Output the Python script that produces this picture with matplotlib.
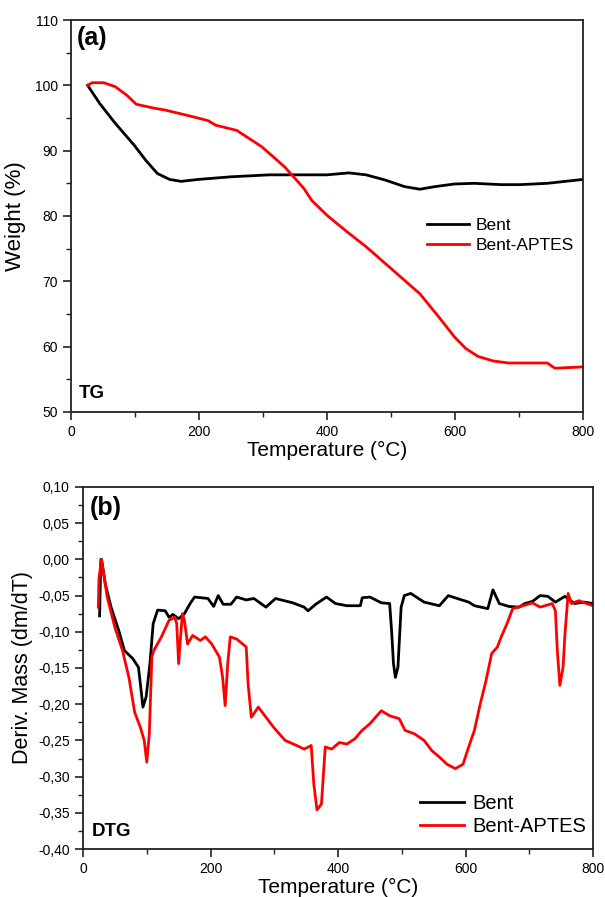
import numpy as np
import matplotlib
matplotlib.use("Agg")
import matplotlib.pyplot as plt
from matplotlib.ticker import MultipleLocator, FuncFormatter

plt.rcParams['font.family'] = ['Liberation Sans', 'DejaVu Sans']

# TG curves (weight %)
tg_bent_t = [26, 45, 69, 99, 117, 135, 154, 172, 199, 250, 310, 370, 400, 434, 461,
             491, 521, 545, 569, 599, 630, 672, 702, 744, 800]
tg_bent_w = [100.0, 97.2, 94.2, 90.8, 88.5, 86.5, 85.6, 85.3, 85.6, 86.0, 86.3, 86.3,
             86.3, 86.6, 86.3, 85.5, 84.5, 84.1, 84.5, 84.9, 85.0, 84.8, 84.8, 85.0, 85.6]
tg_aptes_t = [26, 33, 51, 69, 87, 102, 130, 148, 190, 214, 226, 259, 298, 334, 364,
              376, 400, 431, 461, 503, 545, 575, 599, 617, 636, 660, 684, 744, 756, 800]
tg_aptes_w = [100.0, 100.4, 100.4, 99.8, 98.5, 97.1, 96.5, 96.2, 95.2, 94.6, 93.9, 93.1,
              90.6, 87.5, 84.2, 82.4, 80.1, 77.6, 75.3, 71.7, 68.1, 64.5, 61.5, 59.7,
              58.5, 57.8, 57.5, 57.5, 56.7, 56.9]

# DTG curves (dm/dT)
dtg_bent_t = [26, 28, 29, 35, 44, 56, 65, 78, 87, 90, 94, 99, 105, 110, 117, 129, 135,
              141, 150, 159, 168, 175, 196, 205, 212, 220, 232, 241, 256, 268, 287, 302,
              329, 347, 353, 365, 382, 396, 414, 435, 438, 450, 468, 481, 484, 487, 490,
              494, 499, 504, 514, 535, 559, 573, 587, 605, 614, 635, 643, 653, 668, 684,
              693, 705, 717, 729, 741, 756, 771, 786, 800]
dtg_bent_v = [-0.078, 0.0, 0.0, -0.034, -0.066, -0.098, -0.126, -0.137, -0.149, -0.172,
              -0.204, -0.190, -0.144, -0.089, -0.070, -0.071, -0.080, -0.076, -0.082,
              -0.075, -0.061, -0.052, -0.054, -0.065, -0.050, -0.062, -0.062, -0.052,
              -0.056, -0.054, -0.066, -0.054, -0.060, -0.066, -0.071, -0.062, -0.052,
              -0.061, -0.064, -0.064, -0.053, -0.052, -0.060, -0.061, -0.098, -0.144,
              -0.163, -0.149, -0.066, -0.050, -0.047, -0.059, -0.064, -0.050, -0.054,
              -0.059, -0.064, -0.068, -0.042, -0.061, -0.065, -0.066, -0.061, -0.058,
              -0.050, -0.051, -0.059, -0.051, -0.061, -0.059, -0.061]
dtg_aptes_t = [24, 25, 29, 38, 50, 62, 72, 81, 90, 96, 100, 104, 108, 111, 123, 135, 144,
               147, 150, 153, 156, 159, 164, 172, 184, 192, 202, 214, 219, 223, 227, 231,
               241, 256, 259, 264, 275, 287, 299, 317, 335, 347, 358, 362, 367, 374, 380,
               390, 402, 414, 426, 438, 450, 459, 468, 481, 496, 505, 520, 535, 547, 559,
               571, 584, 596, 605, 614, 623, 632, 641, 650, 656, 665, 674, 690, 705, 717,
               736, 741, 744, 748, 753, 756, 761, 766, 778, 790, 800]
dtg_aptes_v = [-0.066, -0.027, 0.0, -0.052, -0.094, -0.126, -0.163, -0.211, -0.232,
               -0.250, -0.280, -0.241, -0.135, -0.126, -0.107, -0.084, -0.080, -0.089,
               -0.144, -0.107, -0.075, -0.084, -0.117, -0.105, -0.112, -0.107, -0.117,
               -0.135, -0.163, -0.202, -0.144, -0.107, -0.110, -0.121, -0.172, -0.218,
               -0.204, -0.218, -0.232, -0.250, -0.257, -0.262, -0.257, -0.310, -0.346,
               -0.338, -0.259, -0.262, -0.253, -0.255, -0.248, -0.236, -0.227, -0.218,
               -0.209, -0.216, -0.220, -0.236, -0.241, -0.250, -0.264, -0.273, -0.283,
               -0.289, -0.283, -0.259, -0.236, -0.200, -0.168, -0.130, -0.121, -0.107,
               -0.089, -0.068, -0.064, -0.060, -0.066, -0.061, -0.071, -0.126, -0.174,
               -0.149, -0.103, -0.047, -0.061, -0.057, -0.061, -0.064]


def style_axes(ax):
    for s in ax.spines.values():
        s.set_linewidth(1.3)
        s.set_color('#222222')
    ax.tick_params(which='both', direction='out', top=False, right=False,
                   labelsize=10, color='#222222')
    ax.tick_params(which='major', length=6, width=1.2)
    ax.tick_params(which='minor', length=3.5, width=1.0)


fig = plt.figure(figsize=(6.05, 8.97), dpi=100)

# (a) TG
ax1 = fig.add_axes([0.1174, 0.5407, 0.8463, 0.4370])
ax1.plot(tg_bent_t, tg_bent_w, color='black', lw=2, label='Bent')
ax1.plot(tg_aptes_t, tg_aptes_w, color='#ff0000', lw=2, label='Bent-APTES')
ax1.set_xlim(0, 800)
ax1.set_ylim(50, 110)
ax1.xaxis.set_major_locator(MultipleLocator(200))
ax1.xaxis.set_minor_locator(MultipleLocator(100))
ax1.yaxis.set_major_locator(MultipleLocator(10))
ax1.yaxis.set_minor_locator(MultipleLocator(5))
style_axes(ax1)
ax1.set_xlabel('Temperature (°C)', fontsize=15, labelpad=1)
ax1.set_ylabel('Weight (%)', fontsize=16, labelpad=6)
ax1.legend(loc='center left', bbox_to_anchor=(0.665, 0.45), frameon=False,
           fontsize=12.5, handlelength=2.4, handletextpad=0.4, labelspacing=0.25)
ax1.text(0.012, 0.985, '(a)', transform=ax1.transAxes, fontsize=18,
         fontweight='bold', va='top', ha='left')
ax1.text(0.016, 0.035, 'TG', transform=ax1.transAxes, fontsize=13.5,
         fontweight='bold', va='baseline', ha='left')

# (b) DTG
ax2 = fig.add_axes([0.1372, 0.0535, 0.843, 0.4036])
ax2.plot(dtg_bent_t, dtg_bent_v, color='black', lw=2, label='Bent')
ax2.plot(dtg_aptes_t, dtg_aptes_v, color='#ff0000', lw=2, label='Bent-APTES')
ax2.set_xlim(0, 800)
ax2.set_ylim(-0.40, 0.10)
ax2.xaxis.set_major_locator(MultipleLocator(200))
ax2.xaxis.set_minor_locator(MultipleLocator(100))
ax2.yaxis.set_major_locator(MultipleLocator(0.05))
ax2.yaxis.set_minor_locator(MultipleLocator(0.025))
ax2.yaxis.set_major_formatter(FuncFormatter(
    lambda v, p: ('%.2f' % (0.0 if abs(v) < 1e-9 else v)).replace('.', ',')))
style_axes(ax2)
ax2.set_xlabel('Temperature (°C)', fontsize=15, labelpad=1)
ax2.set_ylabel('Deriv. Mass (dm/dT)', fontsize=15.5, labelpad=4)
ax2.legend(loc='lower left', bbox_to_anchor=(0.625, -0.015), frameon=False,
           fontsize=14.5, handlelength=2.2, handletextpad=0.4, labelspacing=0.2)
ax2.text(0.014, 0.975, '(b)', transform=ax2.transAxes, fontsize=18,
         fontweight='bold', va='top', ha='left')
ax2.text(0.018, 0.036, 'DTG', transform=ax2.transAxes, fontsize=13.5,
         fontweight='bold', va='baseline', ha='left')

fig.savefig('out.png', dpi=100)
